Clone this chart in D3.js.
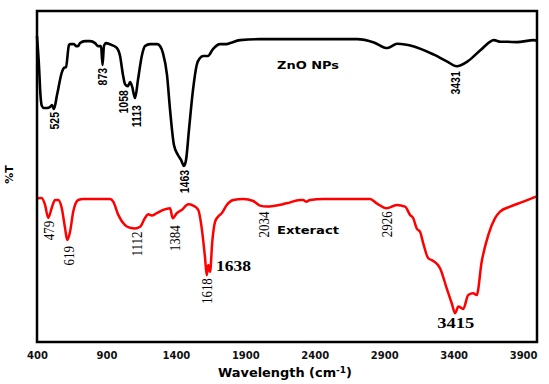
<!DOCTYPE html>
<html>
<head>
<meta charset="utf-8">
<script src="https://cdn.jsdelivr.net/npm/d3@7/dist/d3.min.js"></script>
<style>
  body { margin: 0; background: #fff; }
</style>
</head>
<body>
<div id="chart"></div>
<script>
// FTIR spectra, wavenumber (cm-1) vs transmittance
var znoWave = [400, 414, 425, 435, 450, 472, 494, 508, 522, 544, 580, 594, 609, 630, 638, 666, 681, 695, 710, 746,
    782, 818, 839, 861, 872, 882, 897, 940, 976, 998, 1019, 1034, 1055, 1070, 1084, 1106, 1127, 1156, 1178, 1214,
    1264, 1286, 1307, 1336, 1358, 1386, 1415, 1437, 1458, 1473, 1494, 1523, 1550, 1574, 1597, 1631, 1667, 1718, 1766, 1790,
    1862, 2006, 2243, 2438, 2704, 2826, 2922, 2994, 3114, 3258, 3354, 3422, 3498, 3594, 3690, 3738, 3786, 3854, 3978, 4000];
var znoT = [92.4, 83.7, 74.6, 71.3, 70.7, 70.7, 71.0, 71.6, 70.4, 74.6, 81.6, 82.8, 83.1, 89.7, 90.0, 90.0, 89.4, 89.4, 90.3, 90.9,
    90.9, 90.3, 89.4, 89.4, 83.7, 89.4, 90.3, 89.7, 88.8, 86.4, 80.7, 77.9, 77.3, 78.5, 77.3, 73.7, 79.2, 86.7, 89.4, 90.0,
    90.0, 89.4, 87.3, 80.7, 70.1, 59.5, 56.5, 55.0, 53.2, 55.0, 64.0, 76.1, 83.7, 85.8, 86.4, 86.4, 88.5, 90.0, 90.0, 90.3,
    91.2, 91.5, 91.5, 91.5, 91.5, 90.5, 88.8, 90.1, 89.3, 86.8, 84.7, 83.3, 84.7, 88.2, 91.2, 90.7, 90.7, 90.6, 91.2, 91.0];

var extractWave = [400, 434, 458, 481, 506, 530, 553, 578, 602, 618, 638, 661, 697, 733, 830, 926, 949, 985, 1034, 1070,
    1106, 1142, 1178, 1201, 1226, 1262, 1309, 1358, 1377, 1406, 1442, 1489, 1525, 1561, 1586, 1610, 1622, 1633, 1646, 1662,
    1682, 1705, 1730, 1766, 1813, 1885, 1957, 2006, 2054, 2198, 2294, 2317, 2337, 2366, 2461, 2605, 2798, 2846, 2918, 2990,
    3050, 3086, 3109, 3134, 3158, 3181, 3217, 3253, 3302, 3350, 3386, 3410, 3434, 3469, 3505, 3541, 3566, 3602, 3649, 3698,
    3734, 3806, 3902, 3993];
var extractT = [43.4, 43.5, 41.4, 37.5, 40.5, 42.9, 42.9, 40.5, 34.4, 30.8, 33.3, 39.4, 42.9, 43.2, 43.2, 43.2, 42.4, 38.4, 35.3, 34.5,
    34.3, 34.8, 37.5, 38.6, 38.2, 38.9, 39.9, 40.4, 37.4, 38.9, 39.9, 41.6, 41.2, 39.9, 34.4, 25.4, 20.2, 23.3, 21.2, 30.3,
    36.3, 37.9, 38.9, 41.4, 42.9, 43.2, 42.6, 41.2, 40.9, 41.9, 42.9, 42.9, 42.4, 42.9, 43.2, 43.2, 43.2, 41.9, 40.4, 41.4,
    40.9, 38.4, 37.4, 34.3, 33.3, 29.8, 25.3, 24.5, 22.3, 16.2, 11.7, 8.7, 10.7, 10.0, 14.2, 14.7, 14.2, 24.3, 32.3, 37.4,
    39.4, 40.9, 42.4, 43.9];

var xTicks = [400, 900, 1400, 1900, 2400, 2900, 3400, 3900];
var znoPeaks = ["525", "873", "1058", "1113", "1463", "3431"];
var extractPeaks = ["479", "619", "1112", "1384", "1618", "2034", "2926"];
var extractBigPeaks = ["1638", "3415"];

var width = 549, height = 384;
var plotLeft = 37, plotRight = 537, plotTop = 11, plotBottom = 342;

var x = d3.scaleLinear().domain([400, 4000]).range([plotLeft, plotRight]);
var y = d3.scaleLinear().domain([0, 100]).range([plotBottom, plotTop]);

var svg = d3.select("#chart").append("svg")
    .attr("width", width)
    .attr("height", height)
    .style("font-family", "'DejaVu Sans', sans-serif");

var line = d3.line()
    .x(function (d) { return x(d[0]); })
    .y(function (d) { return y(d[1]); })
    .curve(d3.curveMonotoneX);

var zno = d3.zip(znoWave, znoT);
var extract = d3.zip(extractWave, extractT);

svg.append("path").datum(zno)
    .attr("d", line).attr("fill", "none")
    .attr("stroke", "#000").attr("stroke-width", 2.6).attr("stroke-linejoin", "round");

svg.append("path").datum(extract)
    .attr("d", line).attr("fill", "none")
    .attr("stroke", "#f00").attr("stroke-width", 2.5).attr("stroke-linejoin", "round");

// frame
svg.append("rect")
    .attr("x", plotLeft).attr("y", plotTop)
    .attr("width", plotRight - plotLeft).attr("height", plotBottom - plotTop)
    .attr("fill", "none").attr("stroke", "#000").attr("stroke-width", 2.5);

// bottom axis, labels only
var axis = svg.append("g")
    .attr("transform", "translate(0," + plotBottom + ")")
    .call(d3.axisBottom(x).tickValues(xTicks).tickSize(0).tickPadding(9.5).tickFormat(d3.format("d")));
axis.select(".domain").remove();
axis.selectAll("text")
    .style("font-family", "'DejaVu Sans', sans-serif")
    .style("font-size", "10px").style("font-weight", "bold").attr("fill", "#111");

// lowest point of a series near a wavenumber
function localMin(series, w) {
    var near = series.filter(function (d) { return Math.abs(d[0] - w) <= 25; });
    return d3.min(near, function (d) { return d[1]; });
}

// nudge [dx, gap below the band] in px
var nudge = {
    "525": [0, 3], "873": [0, 3], "1058": [-5, 4], "1113": [1, 7], "1463": [0, 4], "3431": [-2, 5],
    "479": [1, 3], "619": [1, 6], "1112": [1, 3], "1384": [1, 7], "1618": [0, 3], "2034": [0, 5], "2926": [-1, 3]
};

function peakLabels(series, labels, font, size, weight) {
    svg.append("g").selectAll("text")
        .data(labels)
        .enter().append("text")
        .attr("transform", function (d) {
            var n = nudge[d];
            var px = x(+d) + n[0];
            var py = y(localMin(series, +d)) + n[1];
            return "translate(" + px + "," + py + ") scale(1.2,1) rotate(-90)";
        })
        .attr("text-anchor", "end")
        .attr("dominant-baseline", "central")
        .style("font-family", font)
        .style("font-size", size)
        .style("font-weight", weight)
        .attr("fill", "#000")
        .text(function (d) { return d; });
}

peakLabels(zno, znoPeaks, "'Liberation Sans', Arial, sans-serif", "10.5px", "bold");
peakLabels(extract, extractPeaks, "'Liberation Serif', serif", "13px", "normal");

// the two horizontal bold labels on the extract curve
svg.append("text")
    .attr("x", x(+extractBigPeaks[0]) + 7)
    .attr("y", y(localMin(extract, +extractBigPeaks[0])) - 4)
    .attr("textLength", 35).attr("lengthAdjust", "spacingAndGlyphs")
    .style("font-family", "'Liberation Serif', serif")
    .style("font-size", "15px").style("font-weight", "bold")
    .text(extractBigPeaks[0]);

svg.append("text")
    .attr("x", x(+extractBigPeaks[1]) - 18.5)
    .attr("y", y(localMin(extract, +extractBigPeaks[1])) + 15)
    .attr("textLength", 37).attr("lengthAdjust", "spacingAndGlyphs")
    .style("font-family", "'Liberation Serif', serif")
    .style("font-size", "15px").style("font-weight", "bold")
    .text(extractBigPeaks[1]);

// series names
svg.append("text")
    .attr("x", 277).attr("y", 68.6)
    .attr("textLength", 62).attr("lengthAdjust", "spacingAndGlyphs")
    .style("font-size", "10px").style("font-weight", "bold")
    .text("ZnO NPs");

svg.append("text")
    .attr("x", 277).attr("y", 233.6)
    .attr("textLength", 62).attr("lengthAdjust", "spacingAndGlyphs")
    .style("font-size", "10px").style("font-weight", "bold")
    .text("Exteract");

// axis titles
var title = svg.append("text")
    .attr("x", 218).attr("y", 376.5)
    .attr("textLength", 134).attr("lengthAdjust", "spacingAndGlyphs")
    .style("font-size", "11.5px").style("font-weight", "bold");
title.append("tspan").text("Wavelength (cm");
title.append("tspan").attr("dy", -4).style("font-size", "8px").text("-1");
title.append("tspan").attr("dy", 4).text(")");

svg.append("text")
    .attr("transform", "translate(9,174.5) rotate(-90)")
    .attr("text-anchor", "middle")
    .attr("dominant-baseline", "central")
    .style("font-size", "11px").style("font-weight", "bold")
    .text("%T");
</script>
</body>
</html>
